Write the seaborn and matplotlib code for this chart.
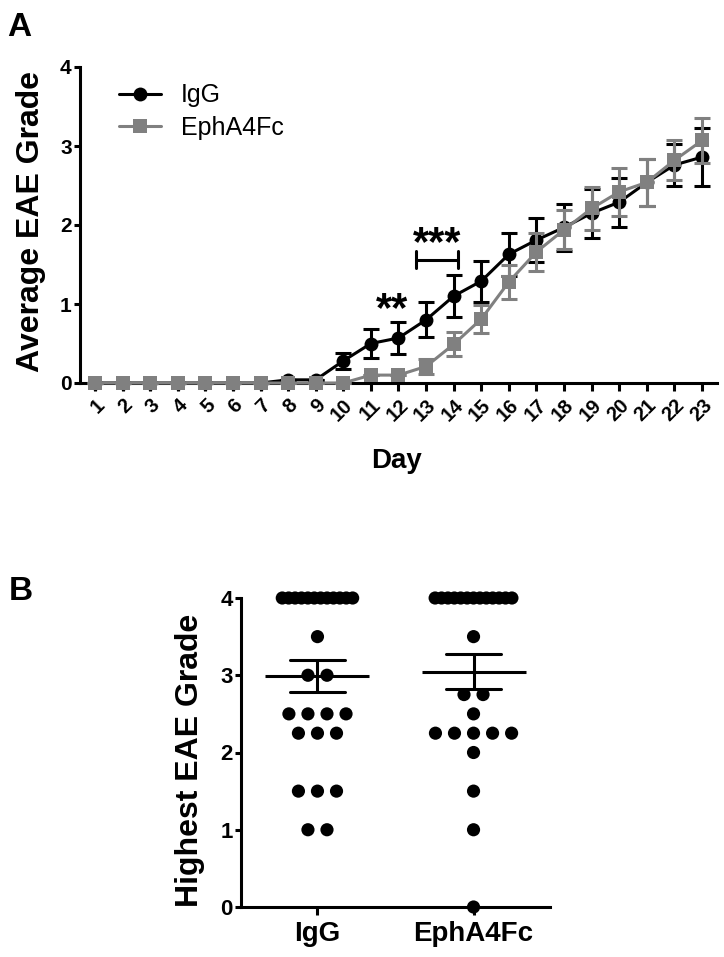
import numpy as np
import pandas as pd
import matplotlib
matplotlib.use("Agg")
import matplotlib.pyplot as plt
import seaborn as sns

# ---------------- data ----------------
days = list(range(1, 24))
igg_mean = [0, 0, 0, 0, 0, 0, 0, 0.04, 0.04, 0.28, 0.50, 0.57, 0.80, 1.10, 1.29,
            1.63, 1.81, 1.97, 2.15, 2.29, 2.54, 2.76, 2.86]
igg_sem = [0, 0, 0, 0, 0, 0, 0, 0, 0, 0.10, 0.18, 0.20, 0.22, 0.27, 0.26,
           0.27, 0.28, 0.30, 0.31, 0.31, 0.30, 0.26, 0.37]
eph_mean = [0, 0, 0, 0, 0, 0, 0, 0, 0, 0, 0.10, 0.10, 0.21, 0.49, 0.81,
            1.28, 1.66, 1.94, 2.21, 2.42, 2.54, 2.82, 3.07]
eph_sem = [0, 0, 0, 0, 0, 0, 0, 0, 0, 0, 0, 0, 0.10, 0.15, 0.18,
           0.22, 0.24, 0.25, 0.27, 0.30, 0.30, 0.25, 0.28]

groups = ["IgG", "EphA4Fc"]
igg_peak = [4, 4, 4, 4, 4, 4, 4, 4, 4, 4, 4, 4, 3.5, 3, 3, 2.5, 2.5, 2.5, 2.5,
            2.25, 2.25, 2.25, 1.5, 1.5, 1.5, 1, 1]
eph_peak = [4, 4, 4, 4, 4, 4, 4, 4, 4, 4, 4, 4, 4, 3.5, 2.75, 2.75, 2.5,
            2.25, 2.25, 2.25, 2.25, 2.25, 2, 1.5, 1, 0]

yticks = [0, 1, 2, 3, 4]

# ---------------- style ----------------
sns.set_theme(style="ticks")
plt.rcParams["font.family"] = ["Liberation Sans", "DejaVu Sans"]
plt.rcParams["axes.linewidth"] = 2.2
for key in ("text.color", "axes.labelcolor", "xtick.color", "ytick.color",
            "axes.edgecolor"):
    plt.rcParams[key] = "black"

BLACK = "#000000"
GRAY = "#808080"

fig = plt.figure(figsize=(7.24, 9.57), dpi=100)

# ================= Panel A =================
axA = fig.add_axes([80 / 724, 1 - 383 / 957, 637 / 724, 316 / 957])

dfA = pd.DataFrame({
    "Day": days * 2,
    "Grade": igg_mean + eph_mean,
    "SEM": igg_sem + eph_sem,
    "Group": ["IgG"] * len(days) + ["EphA4Fc"] * len(days),
})

specs = [("IgG", BLACK, "o", 2), ("EphA4Fc", GRAY, "s", 4)]
for name, col, mk, z in specs:
    sub = dfA[dfA["Group"] == name]
    axA.errorbar(sub["Day"], sub["Grade"], yerr=sub["SEM"], fmt="none",
                 ecolor=col, elinewidth=2.2, capsize=5.5, capthick=2.2,
                 zorder=z, clip_on=False)
    sns.lineplot(data=sub, x="Day", y="Grade", color=col, marker=mk,
                 markersize=10 if mk == "o" else 9.5, markeredgewidth=0,
                 linewidth=2.2, label=name, ax=axA, zorder=z + 1,
                 clip_on=False, errorbar=None)

axA.set_xlim(0.46, 23.54)
axA.set_ylim(0, 4)
axA.set_yticks(yticks)
axA.set_xticks(days)
axA.set_xticklabels([str(d) for d in days], rotation=45, ha="right",
                    rotation_mode="anchor")
axA.tick_params(axis="y", length=4.5, width=2.2, labelsize=15, pad=1.5)
axA.tick_params(axis="x", length=6, width=2.2, labelsize=14.5, pad=3)
for lab in axA.get_xticklabels() + axA.get_yticklabels():
    lab.set_fontweight("bold")
sns.despine(ax=axA)
axA.set_xlabel("")
axA.set_ylabel("")

leg = axA.legend(loc="upper left", bbox_to_anchor=(0.045, 0.98), frameon=False,
                 fontsize=18, handlelength=1.7, handletextpad=0.8,
                 labelspacing=0.35, borderaxespad=0)

# significance marks
axA.text(11.75, 0.78, "**", ha="center", va="baseline", fontsize=30,
         fontweight="bold")
axA.plot([12.65, 14.15], [1.56, 1.56], color=BLACK, lw=2.2, clip_on=False)
for xb in (12.65, 14.15):
    axA.plot([xb, xb], [1.45, 1.67], color=BLACK, lw=2.2, clip_on=False)
axA.text(13.4, 1.62, "***", ha="center", va="baseline", fontsize=30,
         fontweight="bold")

fig.text(396 / 724, 1 - 461 / 957, "Day", ha="center", va="center",
         fontsize=20, fontweight="bold")
fig.text(31 / 724, 1 - 221 / 957, "Average EAE Grade", ha="center",
         va="center", rotation=90, fontsize=23, fontweight="bold")
fig.text(7 / 724, 1 - 12 / 957, "A", ha="left", va="top", fontsize=24,
         fontweight="bold")

# ================= Panel B =================
axB = fig.add_axes([241 / 724, 1 - 907 / 957, 309 / 724, 309 / 957])

dfB = pd.DataFrame({
    "Group": ["IgG"] * len(igg_peak) + ["EphA4Fc"] * len(eph_peak),
    "Peak": igg_peak + eph_peak,
})


def row_offsets(vals):
    vals = np.asarray(vals, dtype=float)
    off = np.zeros(len(vals))
    for v in np.unique(vals):
        idx = np.where(vals == v)[0]
        n = len(idx)
        step = 0.122 if n <= 6 else 0.041
        off[idx] = (np.arange(n) - (n - 1) / 2) * step
    return off


xpos = np.concatenate([0 + row_offsets(igg_peak), 1 + row_offsets(eph_peak)])
dfB["xpos"] = xpos

sns.scatterplot(data=dfB, x="xpos", y="Peak", color=BLACK, s=90,
                edgecolor="none", linewidth=0, ax=axB, clip_on=False,
                legend=False, zorder=3)
sns.pointplot(data=dfB, x="Group", y="Peak", order=groups, errorbar="se",
              color=BLACK, marker="_", markersize=75, markeredgewidth=2.2,
              linestyle="none", capsize=0.35,
              err_kws={"linewidth": 2.2}, ax=axB, zorder=4)

axB.set_xlim(-0.49, 1.49)
axB.set_ylim(0, 4)
axB.set_yticks(yticks)
axB.set_xticks([0, 1])
axB.set_xticklabels(groups)
axB.tick_params(axis="y", length=4.5, width=2.2, labelsize=16, pad=1.5)
axB.tick_params(axis="x", length=6, width=2.2, labelsize=20, pad=4)
for lab in axB.get_xticklabels() + axB.get_yticklabels():
    lab.set_fontweight("bold")
sns.despine(ax=axB)
axB.set_xlabel("")
axB.set_ylabel("")

fig.text(190 / 724, 1 - 760 / 957, "Highest EAE Grade", ha="center",
         va="center", rotation=90, fontsize=23, fontweight="bold")
fig.text(9 / 724, 1 - 576 / 957, "B", ha="left", va="top", fontsize=24,
         fontweight="bold")

fig.savefig("out.png", dpi=100, facecolor="white")
